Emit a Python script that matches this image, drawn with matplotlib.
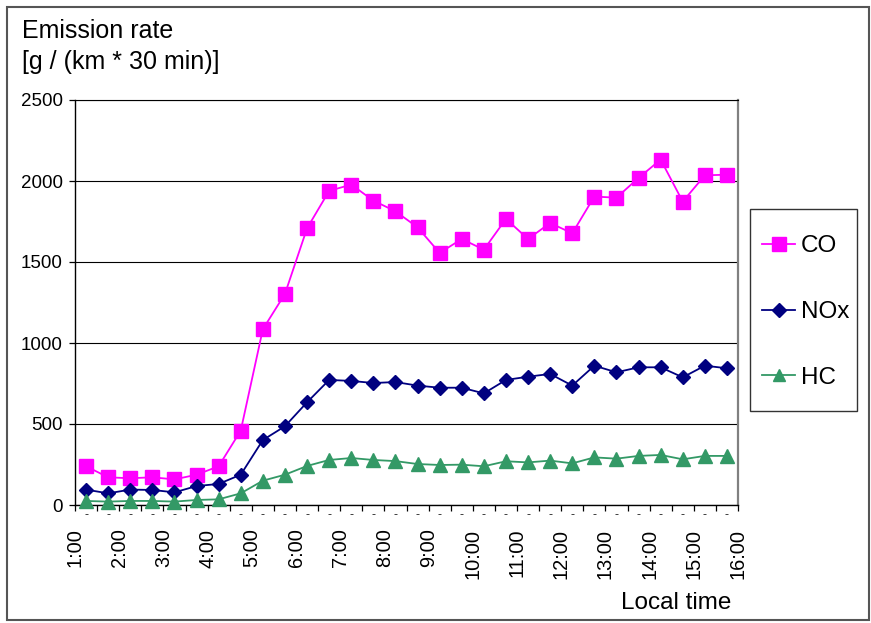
import numpy as np
import matplotlib
matplotlib.use("Agg")
import matplotlib.pyplot as plt
from matplotlib.patches import Rectangle

plt.rcParams['font.family'] = ['Liberation Sans', 'DejaVu Sans']

# Half-hourly emission rates, 1:00 - 16:00 (30 intervals)
co = [239, 171, 165, 171, 158, 187, 239, 459, 1085, 1303,
      1708, 1939, 1978, 1879, 1813, 1714, 1556, 1642, 1576, 1766,
      1642, 1741, 1677, 1904, 1897, 2019, 2132, 1873, 2035, 2039]
nox = [95, 72, 95, 93, 78, 117, 130, 187, 401, 486,
       634, 772, 766, 753, 759, 737, 724, 724, 689, 772,
       792, 809, 737, 860, 819, 850, 850, 788, 860, 844]
hc = [25, 21, 25, 25, 21, 31, 35, 72, 150, 187,
      241, 278, 290, 278, 271, 253, 247, 249, 239, 270,
      263, 274, 257, 294, 286, 303, 309, 282, 303, 303]
hour_labels = ["1:00", "2:00", "3:00", "4:00", "5:00", "6:00", "7:00", "8:00",
               "9:00", "10:00", "11:00", "12:00", "13:00", "14:00", "15:00", "16:00"]
series_names = ["CO", "NOx", "HC"]
y_ticks = [0, 500, 1000, 1500, 2000, 2500]

W, H = 871, 623
fig = plt.figure(figsize=(W / 100, H / 100), dpi=100)
ax = fig.add_axes([75 / W, 1 - 505 / H, (738 - 75) / W, (505 - 100) / H])

n = len(co)
x = np.arange(n) + 0.5

ax.plot(x, co, color='#FF00FF', lw=1.3, marker='s', ms=10, mec='#FF00FF',
        label=series_names[0], zorder=3, clip_on=False)
ax.plot(x, nox, color='#000080', lw=1.3, marker='D', ms=7, mec='#000080',
        label=series_names[1], zorder=4, clip_on=False)
ax.plot(x, hc, color='#339966', lw=1.3, marker='^', ms=9.5, mec='#339966',
        label=series_names[2], zorder=5, clip_on=False)

ax.set_xlim(0, n)
ax.set_ylim(0, 2500)
ax.set_yticks(y_ticks)
ax.set_yticklabels([str(v) for v in y_ticks], fontsize=13.5)
ax.yaxis.grid(True, color='black', lw=0.8)
ax.set_axisbelow(True)

ax.set_xticks(np.arange(0, n + 1, 2))
ax.set_xticklabels(hour_labels, rotation=90, fontsize=14.4, va='top')
ax.set_xticks(np.arange(0, n + 1, 1), minor=True)
ax.tick_params(axis='x', which='major', direction='out', length=4, width=0.9, pad=13)
ax.tick_params(axis='x', which='minor', direction='out', length=4, width=0.9)
ax.tick_params(axis='y', direction='out', length=4, width=0.9, pad=5)

# small dash beneath each half-hour interval
for xi in x:
    ax.text(xi, -0.025, "-", transform=ax.get_xaxis_transform(), ha='center',
            va='center', fontsize=9, color='#222222')

for s in ['left', 'bottom']:
    ax.spines[s].set_color('black')
    ax.spines[s].set_linewidth(1.0)
ax.spines['top'].set_color('black')
ax.spines['top'].set_linewidth(0.8)
ax.spines['right'].set_color('#808080')
ax.spines['right'].set_linewidth(1.6)

# titles
fig.text(22 / W, 1 - 38 / H, "Emission rate", fontsize=18, va='baseline', ha='left')
fig.text(22 / W, 1 - 69 / H, "[g / (km * 30 min)]", fontsize=18, va='baseline', ha='left')
fig.text(731 / W, 1 - 609 / H, "Local time", fontsize=17.5, va='baseline', ha='right')

# legend
leg = ax.legend(loc='center left', bbox_to_anchor=(750 / W, 1 - 312 / H),
                bbox_transform=fig.transFigure, frameon=False, fontsize=17.5,
                handlelength=1.35, handletextpad=0.25, labelspacing=1.8,
                borderpad=0.5, borderaxespad=0, markerscale=0.95)
fig.patches.append(Rectangle((750 / W, 1 - 411 / H), 107 / W, 202 / H,
                             transform=fig.transFigure, fill=False,
                             edgecolor='#333333', lw=1.0))

# outer frame
fig.patches.append(Rectangle((7 / W, 1 - 620 / H), 862 / W, 613 / H,
                             transform=fig.transFigure, fill=False,
                             edgecolor='#555555', lw=1.5))

fig.savefig("out.png", dpi=100, facecolor='white')
